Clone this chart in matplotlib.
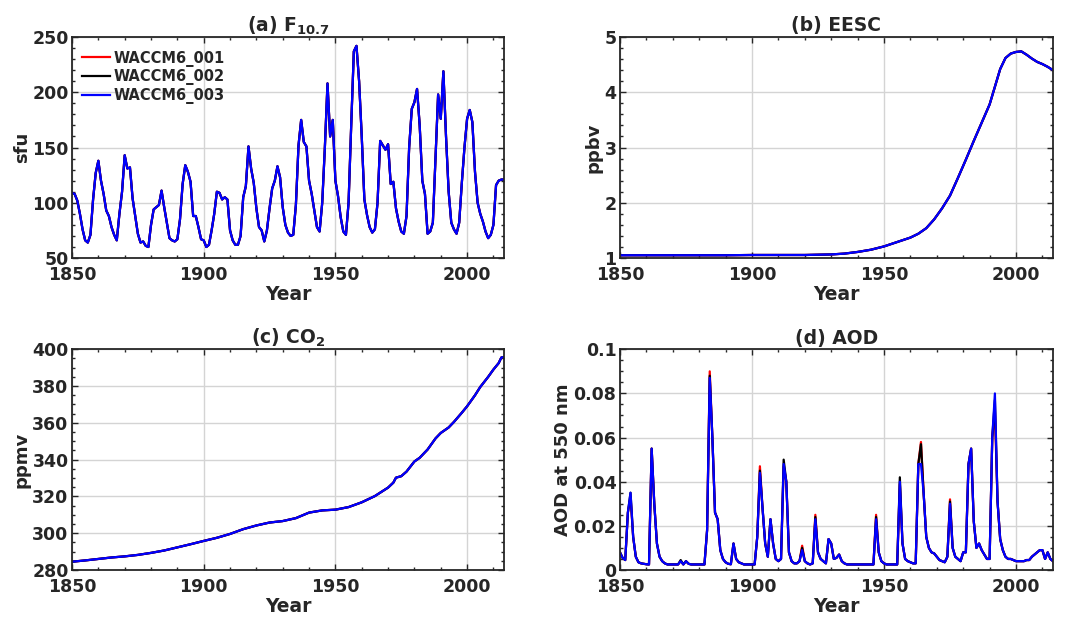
import numpy as np
import matplotlib
matplotlib.use("Agg")
import matplotlib.pyplot as plt
from matplotlib.ticker import MultipleLocator, FormatStrFormatter

# ---------------- data ----------------
f107_years = list(range(1850, 2015))
f107 = [109, 108, 102, 90, 76, 66, 64, 71, 103, 127,
        138, 120, 108, 93, 88, 78, 71, 66, 90, 110,
        143, 131, 132, 104, 88, 72, 64, 65, 61, 60,
        80, 94, 96, 98, 111, 96, 82, 68, 66, 65,
        67, 85, 117, 134, 128, 119, 88, 88, 78, 67,
        66, 60, 62, 75, 90, 110, 109, 103, 105, 103,
        75, 66, 62, 62, 70, 105, 115, 151, 131, 118,
        95, 78, 75, 65, 75, 95, 113, 120, 133, 123,
        96, 80, 73, 70, 71, 98, 152, 175, 155, 151,
        120, 108, 93, 78, 74, 100, 150, 208, 160, 175,
        120, 106, 87, 74, 71, 100, 170, 237, 242, 210,
        160, 103, 89, 78, 73, 76, 100, 156, 152, 148,
        153, 117, 119, 95, 83, 74, 72, 88, 150, 185,
        191, 203, 170, 120, 108, 72, 74, 82, 140, 198,
        176, 219, 160, 110, 82, 76, 72, 82, 118, 150,
        176, 184, 173, 128, 100, 90, 83, 74, 68, 71,
        80, 116, 120, 121, 121]

eesc_years = [1850, 1860, 1870, 1880, 1890, 1900, 1910, 1920, 1925, 1930,
              1935, 1940, 1945, 1950, 1955, 1960, 1963, 1966, 1969, 1972,
              1975, 1978, 1981, 1984, 1987, 1990, 1992, 1994, 1996, 1998,
              2000, 2002, 2004, 2006, 2008, 2010, 2012, 2014]
eesc = [1.05, 1.05, 1.05, 1.05, 1.05, 1.055, 1.055, 1.055, 1.06, 1.065,
        1.08, 1.11, 1.15, 1.21, 1.29, 1.37, 1.44, 1.54, 1.70, 1.90,
        2.13, 2.45, 2.78, 3.12, 3.45, 3.78, 4.10, 4.42, 4.62, 4.70,
        4.73, 4.74, 4.68, 4.61, 4.55, 4.51, 4.46, 4.40]

co2_years = [1850, 1855, 1860, 1865, 1870, 1875, 1880, 1885, 1890, 1895,
             1900, 1905, 1910, 1915, 1920, 1925, 1930, 1935, 1940, 1945,
             1950, 1955, 1960, 1965, 1970, 1972, 1973, 1975, 1977, 1980,
             1982, 1985, 1988, 1990, 1993, 1995, 1998, 2000, 2003, 2005,
             2008, 2010, 2012, 2013, 2014]
co2 = [284.5, 285.2, 286.0, 286.8, 287.4, 288.2, 289.3, 290.6, 292.3, 294.0,
       295.8, 297.5, 299.6, 302.2, 304.2, 305.8, 306.6, 308.2, 311.2, 312.4,
       312.8, 314.2, 316.8, 320.2, 324.8, 327.5, 330.2, 331.0, 333.5, 339.0,
       341.0, 345.5, 351.5, 354.5, 357.5, 360.5, 365.5, 369.0, 375.0, 379.5,
       385.0, 389.0, 392.5, 395.5, 395.8]

aod_years = list(range(1850, 2015))
aod_003 = [0.0080, 0.0055, 0.0045, 0.026, 0.035, 0.015, 0.006, 0.0035, 0.003, 0.0028,
           0.0026, 0.0025, 0.055, 0.030, 0.012, 0.006, 0.004, 0.003, 0.0025, 0.0025,
           0.0025, 0.0025, 0.0025, 0.004, 0.0025, 0.004, 0.0028, 0.0025, 0.0025, 0.0025,
           0.0025, 0.0025, 0.0025, 0.018, 0.087, 0.060, 0.026, 0.023, 0.009, 0.005,
           0.0035, 0.0028, 0.0026, 0.012, 0.005, 0.0035, 0.003, 0.0025, 0.0025, 0.0025,
           0.0025, 0.0025, 0.015, 0.044, 0.028, 0.012, 0.006, 0.023, 0.012, 0.005,
           0.004, 0.005, 0.048, 0.040, 0.008, 0.004, 0.003, 0.003, 0.004, 0.009,
           0.004, 0.003, 0.0025, 0.003, 0.023, 0.008, 0.005, 0.004, 0.003, 0.014,
           0.012, 0.005, 0.0055, 0.007, 0.004, 0.003, 0.0025, 0.0025, 0.0025, 0.0025,
           0.0025, 0.0025, 0.0025, 0.0025, 0.0025, 0.0025, 0.0025, 0.023, 0.008, 0.004,
           0.003, 0.0025, 0.0025, 0.0025, 0.0025, 0.0025, 0.040, 0.012, 0.005, 0.004,
           0.0035, 0.003, 0.003, 0.048, 0.048, 0.035, 0.015, 0.010, 0.008, 0.0075,
           0.006, 0.0045, 0.004, 0.0035, 0.006, 0.030, 0.010, 0.006, 0.005, 0.004,
           0.008, 0.008, 0.048, 0.055, 0.022, 0.010, 0.012, 0.009, 0.007, 0.005,
           0.005, 0.060, 0.080, 0.031, 0.014, 0.009, 0.006, 0.005, 0.005, 0.0045,
           0.004, 0.004, 0.004, 0.004, 0.0045, 0.0045, 0.006, 0.007, 0.008, 0.009,
           0.009, 0.005, 0.008, 0.005, 0.004]
# years where the other members differ visibly from WACCM6_003
aod_001_diff_years = [1854, 1884, 1903, 1912, 1919, 1924, 1947, 1956, 1964, 1975, 1992]
aod_001_diff = [0.033, 0.090, 0.047, 0.047, 0.011, 0.025, 0.025, 0.039, 0.058, 0.032, 0.072]
aod_002_diff_years = [1873, 1884, 1903, 1912, 1919, 1924, 1947, 1956, 1964, 1975, 1992]
aod_002_diff = [0.0045, 0.088, 0.045, 0.050, 0.010, 0.024, 0.024, 0.042, 0.057, 0.031, 0.077]

members = ["WACCM6_001", "WACCM6_002", "WACCM6_003"]
colors = ["#ff0000", "#000000", "#0000ff"]


def member_aod(diff_years, diff_vals):
    vals = list(aod_003)
    for yr, v in zip(diff_years, diff_vals):
        vals[aod_years.index(yr)] = v
    return vals


aod_series = [member_aod(aod_001_diff_years, aod_001_diff),
              member_aod(aod_002_diff_years, aod_002_diff),
              aod_003]

# ---------------- style ----------------
TXT = "#262626"
plt.rcParams.update({
    "font.family": "DejaVu Sans",
    "font.weight": "bold",
    "axes.labelweight": "bold",
    "axes.titleweight": "bold",
    "mathtext.default": "bf",
    "text.color": TXT,
    "axes.labelcolor": TXT,
    "xtick.color": TXT,
    "ytick.color": TXT,
    "axes.edgecolor": TXT,
})

fig = plt.figure(figsize=(10.78, 6.17), dpi=100)
positions = [[0.0668, 0.5818, 0.4007, 0.3582],
             [0.5751, 0.5818, 0.4017, 0.3582],
             [0.0668, 0.0762, 0.4007, 0.3577],
             [0.5751, 0.0762, 0.4017, 0.3577]]
axes = [fig.add_axes(p) for p in positions]


def style(ax, ylim, ymaj, ymin, ylabel, title, fmt=None):
    ax.set_xlim(1850, 2014)
    ax.set_ylim(*ylim)
    ax.xaxis.set_major_locator(MultipleLocator(50))
    ax.xaxis.set_minor_locator(MultipleLocator(10))
    ax.yaxis.set_major_locator(MultipleLocator(ymaj))
    ax.yaxis.set_minor_locator(MultipleLocator(ymin))
    if fmt:
        ax.yaxis.set_major_formatter(fmt)
    ax.grid(True, which="major", color="#d4d4d4", linewidth=1.0)
    ax.set_axisbelow(True)
    ax.tick_params(which="both", direction="in", top=True, right=True,
                   labelsize=12.5, width=1.0)
    ax.tick_params(axis="y", which="major", pad=2.5)
    ax.tick_params(axis="x", which="major", pad=5.5)
    ax.tick_params(which="major", length=4)
    ax.tick_params(which="minor", length=2.5)
    for s in ax.spines.values():
        s.set_linewidth(1.3)
    ax.set_xlabel("Year", fontsize=13.5, labelpad=1)
    ax.set_ylabel(ylabel, fontsize=13, labelpad=1)
    ax.set_title(title, fontsize=13.5, pad=4)


lw = 1.6
ax = axes[0]
for name, c in zip(members, colors):
    ax.plot(f107_years, f107, color=c, lw=lw, label=name)
style(ax, (50, 250), 50, 10, "sfu", r"(a) F$_{10.7}$")
ax.legend(loc="upper left", frameon=False, fontsize=10.5, handlelength=1.9,
          handletextpad=0.25, labelspacing=0.18, borderaxespad=0.0,
          bbox_to_anchor=(0.01, 0.965))

ax = axes[1]
for name, c in zip(members, colors):
    ax.plot(eesc_years, eesc, color=c, lw=lw, label=name)
style(ax, (1, 5), 1, 0.2, "ppbv", "(b) EESC")

ax = axes[2]
for name, c in zip(members, colors):
    ax.plot(co2_years, co2, color=c, lw=lw, label=name)
style(ax, (280, 400), 20, 5, "ppmv", r"(c) CO$_2$")

ax = axes[3]
for name, c, vals in zip(members, colors, aod_series):
    ax.plot(aod_years, vals, color=c, lw=lw, label=name)
style(ax, (0, 0.1), 0.02, 0.005, "AOD at 550 nm", "(d) AOD",
      fmt=FormatStrFormatter("%g"))

fig.savefig("out.png", dpi=100)
